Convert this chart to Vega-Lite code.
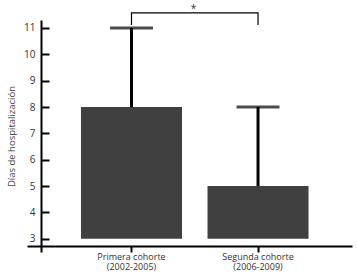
{
  "$schema": "https://vega.github.io/schema/vega-lite/v6.json",
  "width": 325,
  "height": 232,
  "autosize": "none",
  "padding": {"left": 27, "top": 20, "right": 5, "bottom": 26},
  "background": "white",
  "config": {"view": {"stroke": null}, "font": "Open Sans"},
  "datasets": {
    "bars": [
      {"cohorte": "Primera cohorte|(2002-2005)", "media": 8, "base": 3, "sup": 11},
      {"cohorte": "Segunda cohorte|(2006-2009)", "media": 5, "base": 3, "sup": 8}
    ],
    "bracket": [
      {"cohorte": "Primera cohorte|(2002-2005)", "y": 11.11, "o": 1},
      {"cohorte": "Primera cohorte|(2002-2005)", "y": 11.57, "o": 2},
      {"cohorte": "Segunda cohorte|(2006-2009)", "y": 11.57, "o": 3},
      {"cohorte": "Segunda cohorte|(2006-2009)", "y": 11.11, "o": 4}
    ],
    "sig": [{"label": "*", "y": 11.72}]
  },
  "resolve": {"axis": {"y": "independent"}},
  "layer": [
    {
      "data": {"name": "bars"},
      "mark": {"type": "bar", "color": "#404040"},
      "encoding": {
        "x": {
          "field": "cohorte",
          "type": "nominal",
          "sort": null,
          "scale": {"paddingInner": 0.2016, "paddingOuter": 0.385, "align": 0.554},
          "axis": {
            "title": null,
            "labelAngle": 0,
            "labelExpr": "split(datum.label, '|')",
            "labelFontSize": 9,
            "labelLineHeight": 10,
            "labelColor": "#333333",
            "labelPadding": 0,
            "tickSize": 6,
            "tickWidth": 2,
            "tickColor": "black",
            "domainColor": "black",
            "domainWidth": 2,
            "offset": -6
          }
        },
        "y": {
          "field": "media",
          "type": "quantitative",
          "scale": {"domain": [2.5, 11.3], "nice": false, "zero": false},
          "axis": {
            "orient": "left",
            "title": "Días de hospitalización",
            "titleFontSize": 9.5,
            "titleFontWeight": "normal",
            "titleColor": "#444444",
            "titlePadding": 7,
            "values": [3, 4, 5, 6, 7, 8, 9, 10, 11],
            "labelOverlap": false,
            "grid": false,
            "labelFontSize": 10,
            "labelColor": "#333333",
            "ticks": false,
            "labelPadding": 6,
            "domainColor": "black",
            "domainWidth": 2,
            "offset": -14
          }
        },
        "y2": {"field": "base"}
      }
    },
    {
      "data": {"name": "bars"},
      "mark": {"type": "rule", "color": "black", "strokeWidth": 3},
      "encoding": {
        "x": {"field": "cohorte", "type": "nominal", "sort": null},
        "y": {
          "field": "media",
          "type": "quantitative",
          "axis": {
            "orient": "left",
            "title": null,
            "values": [3, 4, 5, 6, 7, 8, 9, 10, 11],
            "grid": false,
            "labels": false,
            "domain": false,
            "ticks": true,
            "tickSize": 8,
            "tickWidth": 2,
            "tickColor": "black",
            "offset": -22
          }
        },
        "y2": {"field": "sup"}
      }
    },
    {
      "data": {"name": "bars"},
      "mark": {"type": "tick", "color": "black", "thickness": 3, "size": 43, "orient": "horizontal"},
      "encoding": {
        "x": {"field": "cohorte", "type": "nominal", "sort": null},
        "y": {"field": "sup", "type": "quantitative", "axis": null}
      }
    },
    {
      "data": {"name": "bracket"},
      "mark": {"type": "line", "color": "black", "strokeWidth": 1.2},
      "encoding": {
        "x": {"field": "cohorte", "type": "nominal", "sort": null},
        "y": {"field": "y", "type": "quantitative", "axis": null},
        "order": {"field": "o", "type": "quantitative"}
      }
    },
    {
      "data": {"name": "sig"},
      "mark": {"type": "text", "fontSize": 10, "color": "#333333", "dx": 4},
      "encoding": {
        "y": {"field": "y", "type": "quantitative", "axis": null},
        "text": {"field": "label"}
      }
    }
  ]
}
